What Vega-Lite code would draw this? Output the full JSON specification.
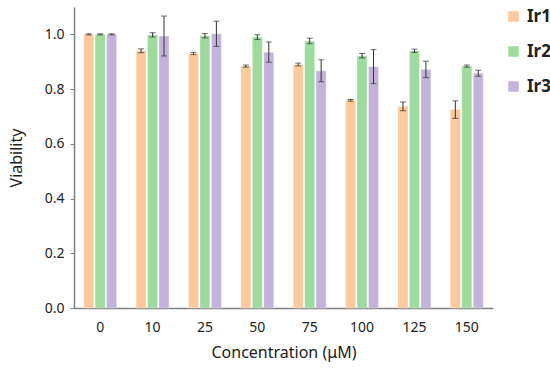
{
  "$schema": "https://vega.github.io/schema/vega-lite/v6.json",
  "width": 419,
  "height": 301,
  "autosize": {"type": "none"},
  "padding": {"left": 74, "top": 7, "right": 57, "bottom": 61},
  "background": "white",
  "config": {
    "font": "Noto Sans",
    "view": {"stroke": null}
  },
  "data": {
    "values": [
      {"conc": "0", "group": "Ir1", "v": 1.0, "err": 0.002},
      {"conc": "0", "group": "Ir2", "v": 1.0, "err": 0.002},
      {"conc": "0", "group": "Ir3", "v": 1.0, "err": 0.002},
      {"conc": "10", "group": "Ir1", "v": 0.94, "err": 0.007},
      {"conc": "10", "group": "Ir2", "v": 0.998, "err": 0.008},
      {"conc": "10", "group": "Ir3", "v": 0.994, "err": 0.073},
      {"conc": "25", "group": "Ir1", "v": 0.930, "err": 0.004},
      {"conc": "25", "group": "Ir2", "v": 0.995, "err": 0.008},
      {"conc": "25", "group": "Ir3", "v": 1.002, "err": 0.046},
      {"conc": "50", "group": "Ir1", "v": 0.884, "err": 0.004},
      {"conc": "50", "group": "Ir2", "v": 0.99, "err": 0.009},
      {"conc": "50", "group": "Ir3", "v": 0.935, "err": 0.037},
      {"conc": "75", "group": "Ir1", "v": 0.89, "err": 0.005},
      {"conc": "75", "group": "Ir2", "v": 0.976, "err": 0.01},
      {"conc": "75", "group": "Ir3", "v": 0.867, "err": 0.04},
      {"conc": "100", "group": "Ir1", "v": 0.759, "err": 0.003},
      {"conc": "100", "group": "Ir2", "v": 0.922, "err": 0.008},
      {"conc": "100", "group": "Ir3", "v": 0.882, "err": 0.062},
      {"conc": "125", "group": "Ir1", "v": 0.737, "err": 0.016},
      {"conc": "125", "group": "Ir2", "v": 0.94, "err": 0.006},
      {"conc": "125", "group": "Ir3", "v": 0.872, "err": 0.03},
      {"conc": "150", "group": "Ir1", "v": 0.725, "err": 0.032},
      {"conc": "150", "group": "Ir2", "v": 0.884, "err": 0.004},
      {"conc": "150", "group": "Ir3", "v": 0.858, "err": 0.011}
    ]
  },
  "transform": [
    {"calculate": "datum.v - datum.err", "as": "lo"},
    {"calculate": "datum.v + datum.err", "as": "hi"}
  ],
  "encoding": {
    "x": {
      "field": "conc", "type": "nominal",
      "sort": ["0", "10", "25", "50", "75", "100", "125", "150"],
      "scale": {"paddingInner": 0.37, "paddingOuter": 0.185},
      "axis": {
        "title": "Concentration (μM)",
        "labelAngle": 0,
        "ticks": false,
        "domainColor": "#808080",
        "domainWidth": 1.5,
        "labelColor": "#222",
        "labelFontSize": 14,
        "labelPadding": 12,
        "titleFontSize": 16,
        "titleFontWeight": "normal",
        "titleColor": "#222",
        "titlePadding": 10
      }
    },
    "xOffset": {
      "field": "group", "type": "nominal",
      "scale": {"paddingInner": 0.12}
    }
  },
  "layer": [
    {
      "mark": {"type": "bar", "stroke": "white", "strokeWidth": 0.6, "strokeOpacity": 0.6},
      "encoding": {
        "y": {
          "field": "v", "type": "quantitative",
          "scale": {"domain": [0, 1.1], "nice": false},
          "axis": {
            "title": "Viability",
            "values": [0, 0.1, 0.2, 0.3, 0.4, 0.5, 0.6, 0.7, 0.8, 0.9, 1.0, 1.1],
            "labelExpr": "round(datum.value*10) % 2 == 0 && datum.value < 1.05 ? format(datum.value, '.1f') : ''",
            "grid": false,
            "domainColor": "#808080",
            "domainWidth": 1.5,
            "tickColor": "#808080",
            "tickSize": 4,
            "labelColor": "#222",
            "labelFontSize": 14,
            "labelPadding": 6,
            "titleFontSize": 16,
            "titleFontWeight": "normal",
            "titleColor": "#222",
            "titlePadding": 20
          }
        },
        "color": {
          "field": "group", "type": "nominal",
          "scale": {"domain": ["Ir1", "Ir2", "Ir3"], "range": ["#FBC99B", "#9FDB9F", "#C3B3DB"]},
          "legend": {
            "title": null,
            "orient": "none",
            "legendX": 431,
            "legendY": 1,
            "padding": 0,
            "symbolType": "square",
            "symbolSize": 110,
            "symbolStrokeWidth": 0,
            "labelFontSize": 17,
            "labelFontWeight": "bold",
            "labelColor": "#222",
            "rowPadding": 17,
            "labelOffset": 5
          }
        }
      }
    },
    {
      "mark": {"type": "rule", "color": "#333", "strokeWidth": 1},
      "encoding": {
        "y": {"field": "lo", "type": "quantitative"},
        "y2": {"field": "hi"}
      }
    },
    {
      "mark": {"type": "tick", "color": "#333", "size": 6, "thickness": 1, "orient": "horizontal"},
      "encoding": {"y": {"field": "lo", "type": "quantitative"}}
    },
    {
      "mark": {"type": "tick", "color": "#333", "size": 6, "thickness": 1, "orient": "horizontal"},
      "encoding": {"y": {"field": "hi", "type": "quantitative"}}
    }
  ]
}
